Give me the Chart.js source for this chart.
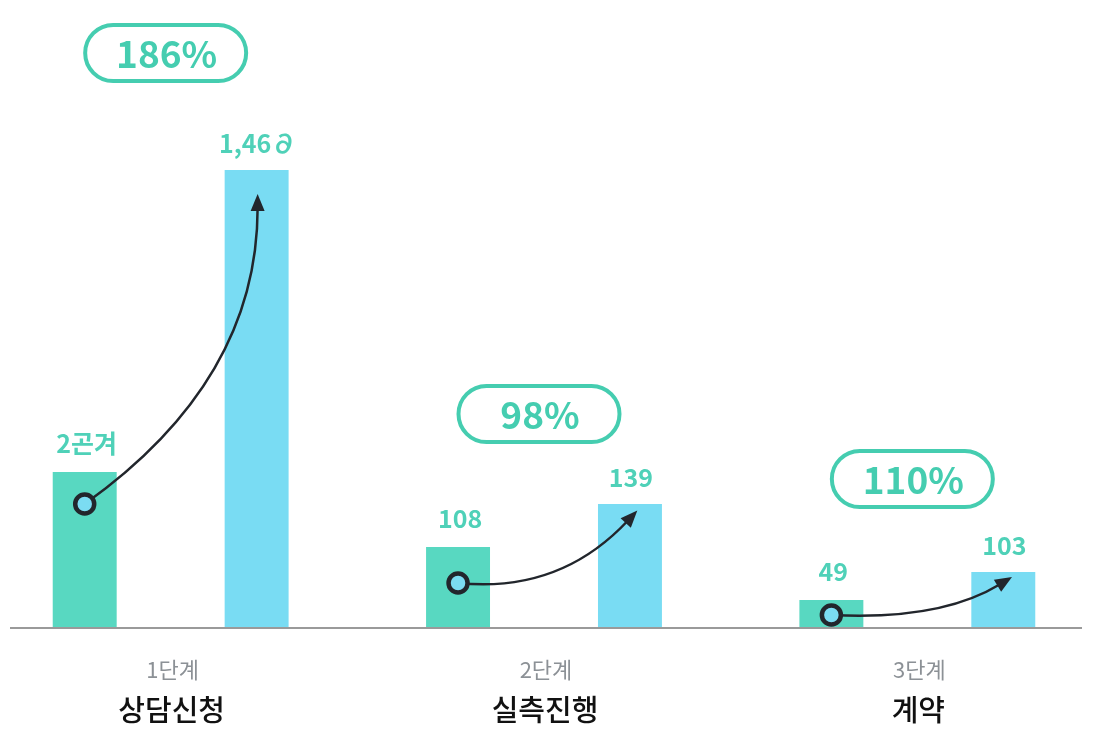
<!DOCTYPE html>
<html>
<head>
<meta charset="utf-8">
<script src="https://cdn.jsdelivr.net/npm/chart.js@4"></script>
<style>
  html, body { margin: 0; padding: 0; background: #fff; overflow: hidden; width: 1097px; height: 755px; }
  #graph { position: absolute; left: -16px; top: 0; }
</style>
</head>
<body>
<canvas id="graph" width="1120" height="755"></canvas>
<script>
const stages = ['1단계', '2단계', '3단계']
const stageNames = ['상담신청', '실측진행', '계약']
// bar levels (bars are not drawn to the printed numbers)
const beforeLevels = [156, 81, 28]
const afterLevels = [458, 124, 56]
const beforeLabels = ['2곤겨', '108', '49']
const afterLabels = ['1,46∂', '139', '103']
const growthLabels = ['186%', '98%', '110%']

const FONT = '"Noto Sans CJK KR", "Noto Sans", sans-serif'
const TEAL = '#45cdb0'

// per group tweaks: where the circle sits in the green bar, where the arrow lands, pill height
const circleDrop = [32, 36, 15]
const arrowEnd = [[1, 26], [6, 8], [7, 6]]
const arrowBend = [[1, 0.4], [0.57, -0.15], [0.61, -0.15]]
const pillRise = [117, 90, 93]

function roundPill (ctx, cx, cy, w, h) {
  const r = h / 2
  ctx.beginPath()
  ctx.moveTo(cx - w / 2 + r, cy - r)
  ctx.lineTo(cx + w / 2 - r, cy - r)
  ctx.arc(cx + w / 2 - r, cy, r, -Math.PI / 2, Math.PI / 2)
  ctx.lineTo(cx - w / 2 + r, cy + r)
  ctx.arc(cx - w / 2 + r, cy, r, Math.PI / 2, Math.PI * 1.5)
  ctx.closePath()
}

const decorPlugin = {
  id: 'decor',
  afterDatasetsDraw: (chart) => {
    const { ctx, chartArea } = chart
    const greens = chart.getDatasetMeta(0).data
    const blues = chart.getDatasetMeta(1).data
    const xs = chart.scales.x
    ctx.save()

    // baseline
    ctx.strokeStyle = '#9a9a9a'
    ctx.lineWidth = 2
    ctx.beginPath()
    ctx.moveTo(26, chartArea.bottom)
    ctx.lineTo(1098, chartArea.bottom)
    ctx.stroke()

    for (let i = 0; i < stages.length; i++) {
      const g = greens[i]
      const b = blues[i]
      const cx = xs.getPixelForValue(i)

      // value labels
      ctx.fillStyle = '#4fd1b8'
      ctx.font = '600 25px ' + FONT
      ctx.textAlign = 'center'
      ctx.textBaseline = 'alphabetic'
      ctx.fillText(beforeLabels[i], g.x + 2, g.y - 19)
      ctx.fillText(afterLabels[i], b.x + 1, b.y - 17)

      // arrow
      const sx = g.x
      const sy = g.y + circleDrop[i]
      const ex = b.x + arrowEnd[i][0]
      const ey = b.y + arrowEnd[i][1]
      const qx = sx + (ex - sx) * arrowBend[i][0]
      const qy = sy + (ey - sy) * arrowBend[i][1]
      const ang = Math.atan2(ey - qy, ex - qx)
      const back = 12
      const lx = ex - Math.cos(ang) * back
      const ly = ey - Math.sin(ang) * back
      ctx.strokeStyle = '#22262c'
      ctx.lineWidth = 2.5
      ctx.beginPath()
      ctx.moveTo(sx, sy)
      ctx.quadraticCurveTo(qx, qy, lx, ly)
      ctx.stroke()
      ctx.fillStyle = '#22262c'
      ctx.beginPath()
      ctx.moveTo(ex + Math.cos(ang) * 2, ey + Math.sin(ang) * 2)
      ctx.lineTo(ex - Math.cos(ang) * 15 - Math.sin(ang) * 7, ey - Math.sin(ang) * 15 + Math.cos(ang) * 7)
      ctx.lineTo(ex - Math.cos(ang) * 15 + Math.sin(ang) * 7, ey - Math.sin(ang) * 15 - Math.cos(ang) * 7)
      ctx.closePath()
      ctx.fill()

      // circle
      ctx.beginPath()
      ctx.arc(sx, sy, 9.5, 0, Math.PI * 2)
      ctx.fillStyle = '#7bdcf2'
      ctx.fill()
      ctx.lineWidth = 4.5
      ctx.strokeStyle = '#22262c'
      ctx.stroke()

      // growth pill
      const py = b.y - pillRise[i]
      roundPill(ctx, cx - 5, py, 161, 56)
      ctx.fillStyle = '#fff'
      ctx.fill()
      ctx.lineWidth = 4
      ctx.strokeStyle = TEAL
      ctx.stroke()
      ctx.fillStyle = TEAL
      ctx.font = 'bold 37px ' + FONT
      ctx.textBaseline = 'middle'
      ctx.fillText(growthLabels[i], cx - 4, py + 1)

      // category labels
      ctx.fillStyle = '#8c9196'
      ctx.font = '22px ' + FONT
      ctx.fillText(stages[i], cx + 2, chartArea.bottom + 42)
      ctx.fillStyle = '#111'
      ctx.font = '500 29px ' + FONT
      ctx.fillText(stageNames[i], cx + 1, chartArea.bottom + 82)
    }
    ctx.restore()
  }
}

const chart = new Chart('graph', {
  type: 'bar',
  data: {
    labels: stages,
    datasets: [{
      label: 'before',
      data: beforeLevels,
      backgroundColor: '#58d8c1',
      categoryPercentage: 0.921,
      barPercentage: 0.372
    }, {
      label: 'after',
      data: afterLevels,
      backgroundColor: '#79dcf3',
      categoryPercentage: 0.921,
      barPercentage: 0.372
    }]
  },
  options: {
    responsive: false,
    animation: false,
    layout: { padding: { top: 0, bottom: 127, left: 0, right: 0 } },
    scales: {
      x: { display: false, grid: { display: false } },
      y: { display: false, min: 0, max: 628 }
    },
    plugins: {
      legend: { display: false },
      tooltip: { enabled: false }
    }
  },
  plugins: [decorPlugin]
})
</script>
</body>
</html>
